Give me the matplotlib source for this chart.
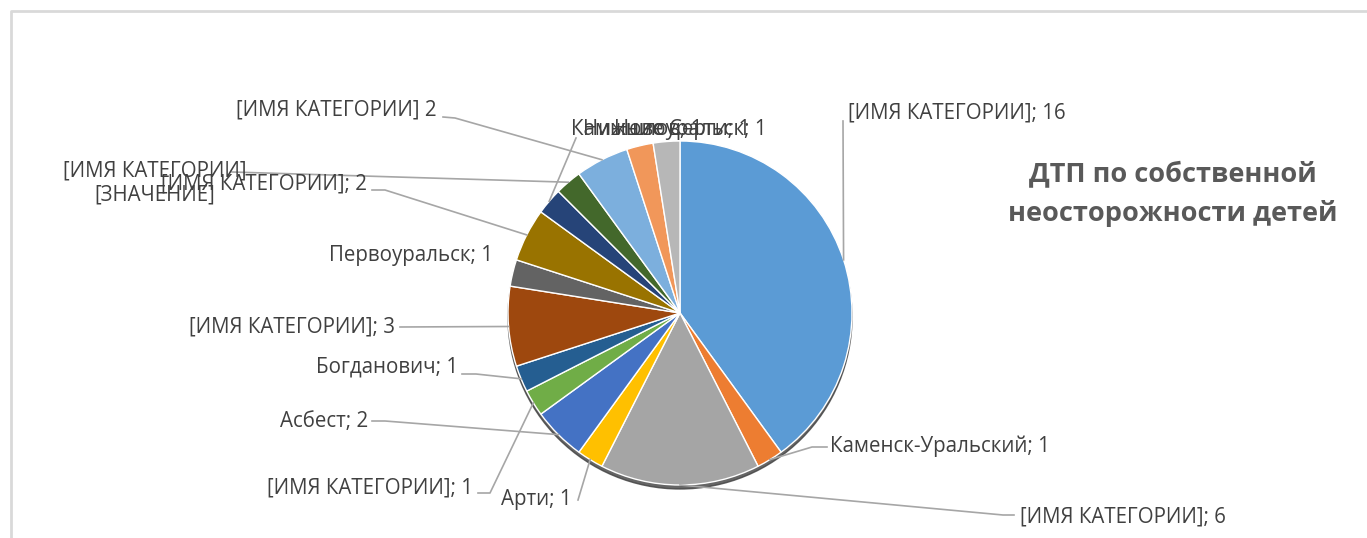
import numpy as np
import matplotlib.pyplot as plt

# ── данные ─────────────────────────────────────────────
values = [16, 1, 6, 1, 2, 1, 1, 3, 1, 2, 1, 1, 2, 1, 1]
labels = ['[ИМЯ КАТЕГОРИИ]; 16', 'Каменск-Уральский; 1', '[ИМЯ КАТЕГОРИИ]; 6',
          'Арти; 1', 'Асбест; 2', '[ИМЯ КАТЕГОРИИ]; 1', 'Богданович; 1',
          '[ИМЯ КАТЕГОРИИ]; 3', 'Первоуральск; 1', '[ИМЯ КАТЕГОРИИ]; 2',
          'Камышлов; 1', '[ИМЯ КАТЕГОРИИ]\n[ЗНАЧЕНИЕ]', '[ИМЯ КАТЕГОРИИ] 2',
          'Нижние Серги; 1', 'Новоуральск; 1']
colors = ['#5B9BD5', '#ED7D31', '#A5A5A5', '#FFC000', '#4472C4', '#70AD47',
          '#255E91', '#9E480E', '#636363', '#997300', '#264478', '#43682B',
          '#7CAFDD', '#F1975A', '#B7B7B7']
title = 'ДТП по собственной\nнеосторожности детей'

W, H = 1367, 538
# позиции подписей (пиксели, y вниз): x, y, ha, начало выноски
lab_pos = [
    (848, 113, 'left', [(843, 121)]),
    (830, 446, 'left', [(827, 447), (812, 447)]),
    (1020, 517, 'left', [(1014, 515), (1003, 515)]),
    (572, 500, 'right', [(578, 500)]),
    (368, 421, 'right', [(372, 421), (385, 421)]),
    (473, 488, 'right', [(478, 493), (490, 493)]),
    (458, 367, 'right', [(462, 374), (476, 374)]),
    (395, 327, 'right', [(400, 327)]),
    (493, 256, 'right', None),
    (367, 184, 'right', [(372, 190), (385, 190)]),
    (571, 130, 'left', [(576, 138)]),
    (155, 183, 'center', [(232, 172)]),
    (437, 110, 'right', [(443, 117), (455, 118)]),
    (583, 130, 'left', None),
    (767, 130, 'right', None),
]

plt.rcParams['font.family'] = ['Open Sans', 'DejaVu Sans']


def P(x, y):
    return x, H - y


fig = plt.figure(figsize=(W / 100, H / 100), dpi=100)
ax = fig.add_axes([0, 0, 1, 1])

cx, cy = P(680, 313)
R = 172

# тень снизу
ax.add_patch(plt.Circle((cx, cy - 4), R, color='#404040', alpha=0.8, zorder=1))
wedges, _ = ax.pie(values, colors=colors, startangle=90, counterclock=False,
                   center=(cx, cy), radius=R, frame=True,
                   wedgeprops=dict(edgecolor='white', linewidth=1, zorder=2))

for w, txt, (lx, ly, ha, lead) in zip(wedges, labels, lab_pos):
    ang = np.deg2rad((w.theta1 + w.theta2) / 2)
    ex, ey = cx + R * np.cos(ang), cy + R * np.sin(ang)
    if lead is not None:
        pts = [P(*p) for p in lead] + [(ex, ey)]
        ax.plot([p[0] for p in pts], [p[1] for p in pts], color='#A6A6A6',
                lw=1.2, zorder=3)
    ax.text(*P(lx, ly), txt, ha=ha, va='center', fontsize=14.8,
            color='#404040', linespacing=1.25, zorder=4)

ax.text(*P(1173, 194), title, ha='center', va='center', fontsize=19.5,
        fontweight='bold', color='#595959', linespacing=1.55)

# рамка области диаграммы
ax.plot([11, 11, W + 5], [-5, H - 11, H - 11], color='#D9D9D9', lw=2, zorder=0)

ax.set_xlim(0, W)
ax.set_ylim(0, H)
ax.set_aspect('auto')
ax.axis('off')

plt.savefig('out.png', dpi=100)
